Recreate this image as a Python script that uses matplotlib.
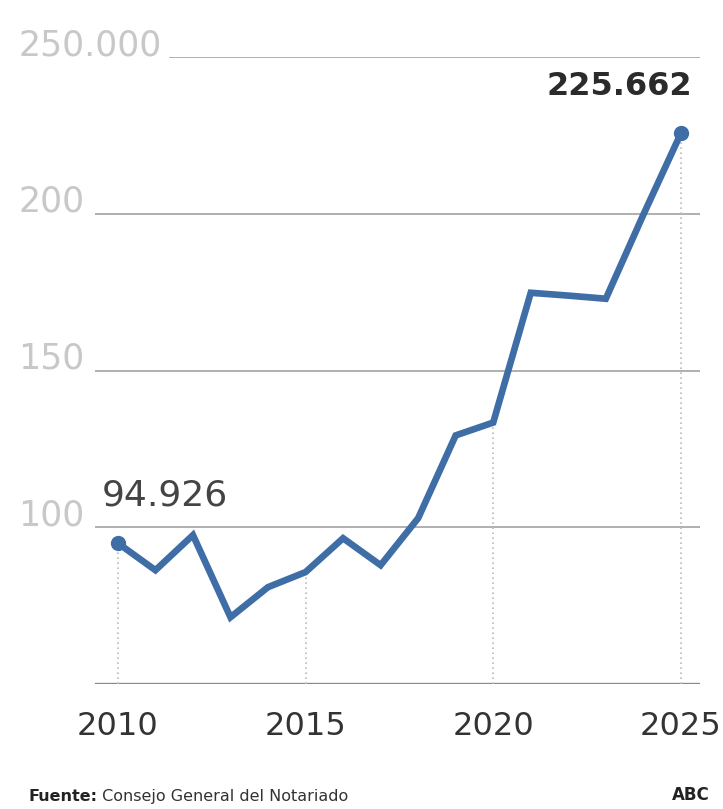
import matplotlib.pyplot as plt
from matplotlib.transforms import blended_transform_factory

# datos (miles)
years = [2010, 2011, 2012, 2013, 2014, 2015, 2016, 2017,
         2018, 2019, 2020, 2021, 2022, 2023, 2024, 2025]
values = [94.926, 86.3, 97.5, 71.3, 80.9, 85.7, 96.5, 87.9,
          102.9, 129.3, 133.4, 174.8, 173.9, 172.9, 199.7, 225.662]
y_ticks = [100, 150, 200, 250]
y_labels = ["100", "150", "200", "250.000"]
x_ticks = [2010, 2015, 2020, 2025]

line_color = "#3f6da6"

fig = plt.figure(figsize=(7.23, 8.09), dpi=100)
ax = fig.add_axes([0.1314, 0.1545, 0.8368, 0.775])
ax.set_xlim(2009.39, 2025.51)
ax.set_ylim(50, 250)
ax.axis("off")

# gridlines
for y in y_ticks:
    xmin = 0.124 if y == 250 else 0.0
    ax.axhline(y, xmin=xmin, xmax=1, color="#9a9a9a", lw=1.1, zorder=1)
ax.axhline(50, color="#8a8a8a", lw=2.4, zorder=1)

# y labels
tr = blended_transform_factory(fig.transFigure, ax.transData)
for y, lab in zip(y_ticks, y_labels):
    ax.text(0.025, y + 0.6, lab, transform=tr, ha="left", va="baseline",
            fontsize=25, color="#c8c8c8", family="DejaVu Sans")

# dotted verticals
vals_at = [values[years.index(x)] for x in x_ticks]
ax.vlines(x_ticks, 50, vals_at, colors="#bbbbbb", linestyles=(0, (1, 2)), lw=1.2, zorder=2)

# line
ax.plot(years, values, color=line_color, lw=4.8, solid_joinstyle="miter", zorder=3)
ax.plot([years[0], years[-1]], [values[0], values[-1]], "o", color=line_color,
        markersize=10, zorder=4)

# x labels
for x in x_ticks:
    ax.text(x, 36.3, str(x), ha="center", va="center", fontsize=23,
            color="#333333", family="DejaVu Sans", clip_on=False)

# annotations
ax.text(years[0] - 0.43, 110, "94.926", ha="left", va="center", fontsize=26,
        color="#444444", family="DejaVu Sans")
ax.text(2025.3, 240.7, "225.662", ha="right", va="center", fontsize=23,
        color="#2b2b2b", fontweight="bold", family="DejaVu Sans")

# footer
t = fig.text(0.039, 0.006, "Fuente:", fontsize=11.5, fontweight="bold",
             color="#222222", ha="left", va="bottom")
fig.canvas.draw()
ax.annotate(" Consejo General del Notariado", xy=(1, 0), xycoords=t,
            ha="left", va="bottom", fontsize=11.5, color="#333333")
fig.text(0.93, 0.006, "ABC", fontsize=12, fontweight="bold",
         color="#222222", ha="left", va="bottom")

fig.savefig("out.png", dpi=100)
